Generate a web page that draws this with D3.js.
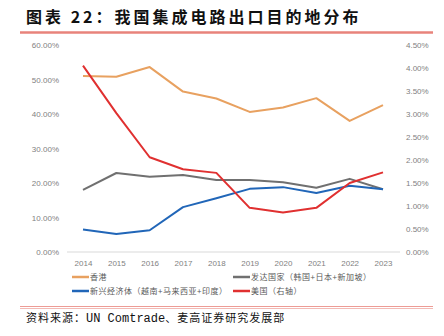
<!DOCTYPE html>
<html>
<head>
<meta charset="utf-8">
<script src="https://cdn.jsdelivr.net/npm/d3@7"></script>
<style>
  body { margin: 0; background: #fff; }
  svg { display: block; font-family: "Noto Sans CJK SC", "Noto Sans", sans-serif; }
</style>
</head>
<body>
<svg id="chart" width="444" height="336"></svg>
<script>
// data
const years = [2014, 2015, 2016, 2017, 2018, 2019, 2020, 2021, 2022, 2023];
const hongKong = [51.0, 50.8, 53.6, 46.5, 44.5, 40.6, 41.9, 44.6, 38.0, 42.6];
const developed = [18.0, 22.9, 21.8, 22.3, 20.9, 20.9, 20.2, 18.6, 21.2, 18.2];
const emerging = [6.5, 5.2, 6.3, 13.0, 15.6, 18.3, 18.8, 17.1, 19.2, 18.2];
const usa = [4.05, 3.02, 2.06, 1.80, 1.72, 0.96, 0.86, 0.96, 1.50, 1.73];

const leftTicks = [0, 10, 20, 30, 40, 50, 60];
const rightTicks = [0, 0.5, 1, 1.5, 2, 2.5, 3, 3.5, 4, 4.5];

const seriesNames = ["香港", "发达国家（韩国+日本+新加坡）", "新兴经济体（越南+马来西亚+印度）", "美国（右轴）"];
const seriesColors = ["#e8a160", "#707070", "#2166b8", "#e03030"];

const svg = d3.select("#chart");

// title
svg.append("text")
    .attr("x", 26).attr("y", 23)
    .attr("font-size", 16).attr("font-weight", "bold")
    .attr("letter-spacing", 3)
    .attr("fill", "#111")
    .text("图表 22：我国集成电路出口目的地分布");
svg.append("line")
    .attr("x1", 20).attr("x2", 433).attr("y1", 32.5).attr("y2", 32.5)
    .attr("stroke", "#e8837b").attr("stroke-width", 2.5);

// scales
let x = d3.scalePoint().domain(years).range([83, 383]);
let yL = d3.scaleLinear().domain([0, 60]).range([252, 45]);
let yR = d3.scaleLinear().domain([0, 4.5]).range([252, 45]);

// axes
let gL = svg.append("g").attr("transform", "translate(59,0)")
    .call(d3.axisLeft(yL).tickValues(leftTicks).tickSize(0).tickPadding(0)
        .tickFormat(d => d3.format(".2f")(d) + "%"));
let gR = svg.append("g").attr("transform", "translate(406,0)")
    .call(d3.axisRight(yR).tickValues(rightTicks).tickSize(0).tickPadding(0)
        .tickFormat(d => d3.format(".2f")(d) + "%"));
let gX = svg.append("g").attr("transform", "translate(0,252)")
    .call(d3.axisBottom(x).tickSize(0).tickPadding(8));

[gL, gR, gX].forEach(g => {
    g.select(".domain").remove();
    g.selectAll("text").attr("fill", "#7f7f7f").attr("font-size", 8);
});
svg.append("line")
    .attr("x1", 67).attr("x2", 400).attr("y1", 252).attr("y2", 252)
    .attr("stroke", "#d9d9d9").attr("stroke-width", 1);

// lines
const lineL = d3.line().x((d, i) => x(years[i])).y(d => yL(d));
const lineR = d3.line().x((d, i) => x(years[i])).y(d => yR(d));

const plotted = [
    { vals: hongKong, gen: lineL },
    { vals: developed, gen: lineL },
    { vals: emerging, gen: lineL },
    { vals: usa, gen: lineR }
];
plotted.forEach((s, i) => {
    svg.append("path")
        .attr("d", s.gen(s.vals))
        .attr("fill", "none")
        .attr("stroke", seriesColors[i])
        .attr("stroke-width", 2)
        .attr("stroke-linejoin", "round");
});

// legend
const legPos = [[72, 277], [233, 277], [72, 291], [233, 291]];
seriesNames.forEach((name, i) => {
    let g = svg.append("g").attr("transform", `translate(${legPos[i][0]},${legPos[i][1]})`);
    g.append("line").attr("x1", 0).attr("x2", 17).attr("y1", 0).attr("y2", 0)
        .attr("stroke", seriesColors[i]).attr("stroke-width", 2.5);
    g.append("text").attr("x", 18).attr("y", 3)
        .attr("font-size", 8).attr("letter-spacing", 0.5)
        .attr("fill", "#595959").text(name);
});

// source
svg.append("line")
    .attr("x1", 20).attr("x2", 433).attr("y1", 306.5).attr("y2", 306.5)
    .attr("stroke", "#e8837b").attr("stroke-width", 0.8);
svg.append("line")
    .attr("x1", 20).attr("x2", 433).attr("y1", 308.5).attr("y2", 308.5)
    .attr("stroke", "#f0a8a2").attr("stroke-width", 0.8);
let src = svg.append("text")
    .attr("x", 26).attr("y", 322)
    .attr("font-size", 11).attr("fill", "#111");
src.append("tspan").attr("letter-spacing", 1).text("资料来源：");
src.append("tspan").attr("font-family", "Liberation Mono, monospace").attr("font-size", 12).text("UN Comtrade");
src.append("tspan").attr("letter-spacing", 1).text("、麦高证券研究发展部");
</script>
</body>
</html>
